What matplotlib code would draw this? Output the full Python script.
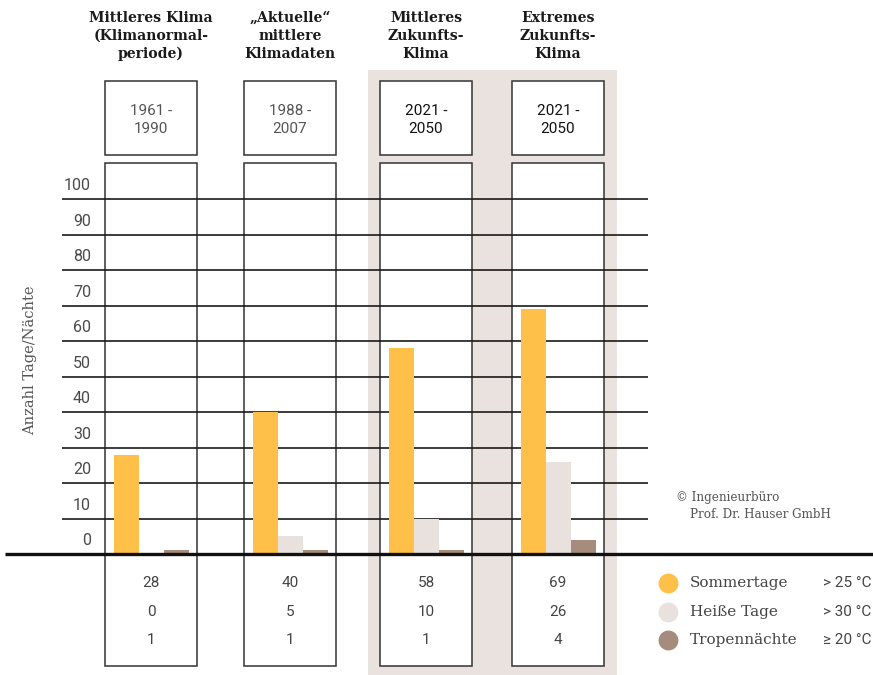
import matplotlib
matplotlib.use("Agg")
import matplotlib.pyplot as plt
from matplotlib.patches import Rectangle

# ---- data ----
titles = ["Mittleres Klima\n(Klimanormal-\nperiode)",
          "\u201eAktuelle\u201c\nmittlere\nKlimadaten",
          "Mittleres\nZukunfts-\nKlima",
          "Extremes\nZukunfts-\nKlima"]
periods = ["1961 -\n1990", "1988 -\n2007", "2021 -\n2050", "2021 -\n2050"]
sommertage = [28, 40, 58, 69]
heisse_tage = [0, 5, 10, 26]
tropennaechte = [1, 1, 1, 4]
series_names = ["Sommertage", "Hei\u00dfe Tage", "Tropenn\u00e4chte"]
thresholds = ["> 25 \u00b0C", "> 30 \u00b0C", "\u2265 20 \u00b0C"]
yticks = [0, 10, 20, 30, 40, 50, 60, 70, 80, 90, 100]
ylabel = "Anzahl Tage/N\u00e4chte"
credit = ["\u00a9 Ingenieurb\u00fcro", "Prof. Dr. Hauser GmbH"]

colors = ["#FFC04A", "#E8E1DE", "#A68C7C"]
shade = "#E9E2DF"
edge = "#333333"

W, H = 873, 675
fig = plt.figure(figsize=(W / 100, H / 100), dpi=100)
ax = fig.add_axes([0, 0, 1, 1])
PX = 3.55           # pixels per day unit
BASE = 554          # pixel row (from top) of zero line


def yd(p):
    return (BASE - p) / PX


ax.set_xlim(0, W)
ax.set_ylim(yd(H), yd(0))
ax.axis("off")

centers = [151, 290, 426, 558]
half = 46
bw = 25

# shaded background for future scenarios
ax.add_patch(Rectangle((368, yd(H)), 617 - 368, yd(70) - yd(H),
                       facecolor=shade, edgecolor="none", zorder=0))

lw = 1.1
for c, per, i in zip(centers, periods, range(4)):
    ax.add_patch(Rectangle((c - half, 0), 2 * half, yd(163), facecolor="white",
                           edgecolor=edge, lw=lw, zorder=1))
    ax.add_patch(Rectangle((c - half, yd(155)), 2 * half, yd(81) - yd(155),
                           facecolor="white", edgecolor=edge, lw=lw, zorder=1))
    ax.add_patch(Rectangle((c - half, yd(666)), 2 * half, -yd(666),
                           facecolor="white", edgecolor=edge, lw=lw, zorder=1))
    ax.text(c, yd(120), per, ha="center", va="center", fontsize=11,
            family="Roboto", color="#555555" if i < 2 else "#111111",
            linespacing=1.35, zorder=5)
    ax.text(c, yd(36), titles[i], ha="center", va="center", fontsize=10.1,
            family="DejaVu Serif", fontweight="bold", color="#1a1a1a",
            linespacing=1.38)

# gridlines
for v in yticks[1:]:
    ax.plot([62, 648], [v, v], color="#1a1a1a", lw=1.2, zorder=2,
            solid_capstyle="butt")
for v in yticks:
    ax.text(91, v + 3.8, str(v), ha="right", va="center", fontsize=11.5,
            family="Roboto", color="#4a4a4a")

# bars
offsets = [-24.5, 0.5, 25.5]
for vals, col, off in zip([sommertage, heisse_tage, tropennaechte], colors, offsets):
    xs = [c + off for c in centers]
    ax.bar(xs, vals, width=bw, color=col, zorder=3, linewidth=0)

# baseline
ax.plot([5, W], [0, 0], color="#111111", lw=2.4, zorder=4, solid_capstyle="butt")

# values in boxes
rows = [583, 612, 640]
for c, a, b, d in zip(centers, sommertage, heisse_tage, tropennaechte):
    for r, v in zip(rows, [a, b, d]):
        ax.text(c, yd(r), str(v), ha="center", va="center", fontsize=11,
                family="Roboto", color="#444444", zorder=5)

# legend
for r, name, th, col in zip(rows, series_names, thresholds, colors):
    ax.scatter([668], [yd(r)], s=205, color=col, linewidths=0, zorder=5)
    ax.text(690, yd(r), name, ha="left", va="center", fontsize=11,
            family="DejaVu Serif", color="#444444")
    ax.text(823, yd(r), th, ha="left", va="center", fontsize=11,
            family="Roboto", color="#444444")

# credit
ax.text(676, yd(498), credit[0], ha="left", va="center", fontsize=8.6,
        family="DejaVu Serif", color="#555555")
ax.text(690, yd(515), credit[1], ha="left", va="center", fontsize=8.6,
        family="DejaVu Serif", color="#555555")

# y label
ax.text(30, yd(360), ylabel, rotation=90, ha="center", va="center",
        fontsize=10.5, family="DejaVu Serif", color="#555555")

fig.savefig("out.png", dpi=100, facecolor="white")
